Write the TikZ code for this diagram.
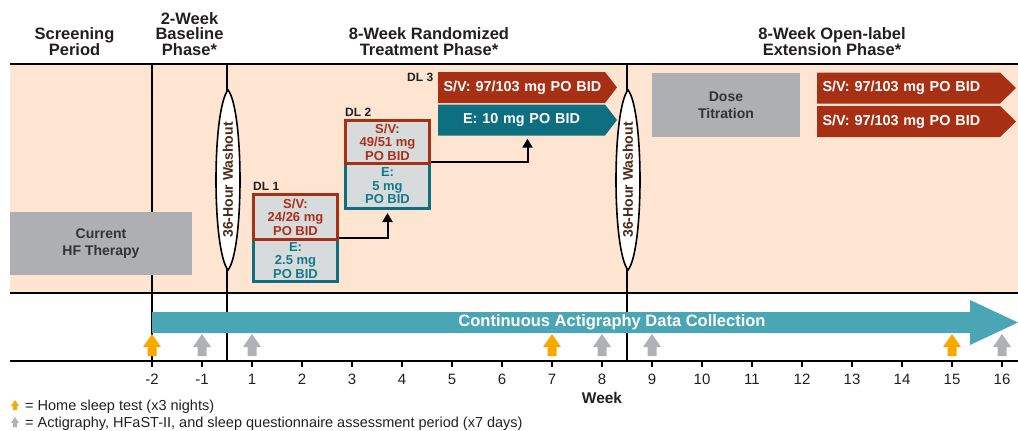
\documentclass[tikz,border=0pt]{standalone}
\usepackage{fontspec}
\setmainfont{Liberation Sans}
\usetikzlibrary{arrows.meta}
\definecolor{peach}{HTML}{FDE5D1}
\definecolor{svred}{HTML}{A72F14}
\definecolor{svtext}{HTML}{A83218}
\definecolor{eteal}{HTML}{0D6F80}
\definecolor{etext}{HTML}{137A8A}
\definecolor{boxgray}{HTML}{AEAFB2}
\definecolor{lightbox}{HTML}{D8DBDC}
\definecolor{actteal}{HTML}{4AA5B4}
\definecolor{orangear}{HTML}{F7A900}
\definecolor{grayarrow}{HTML}{B0B1B4}
\definecolor{washbrown}{HTML}{4A2A18}
\definecolor{darktext}{HTML}{231F20}
\definecolor{boxtext}{HTML}{333333}
\tikzset{
  rule/.style={line width=2.8pt, black},
  hdr/.style={font=\fontsize{16.5}{15.5}\selectfont\bfseries, text=darktext, align=center, inner sep=0pt, anchor=base},
  graybox/.style={fill=boxgray, text=boxtext, font=\fontsize{14}{17}\selectfont\bfseries, align=center, inner sep=0pt},
  washline/.style={draw=black, line width=1.6pt, fill=white},
  washtext/.style={rotate=90, text=washbrown, font=\fontsize{14}{16}\selectfont\bfseries, inner sep=0pt},
  dlbox/.style={line width=3pt, fill=lightbox, font=\fontsize{13}{13.5}\selectfont\bfseries, align=center, inner sep=0pt, minimum width=84pt},
  dlsv/.style={dlbox, draw=svred, text=svtext},
  dle/.style={dlbox, draw=eteal, text=etext},
  dllabel/.style={font=\fontsize{12}{13}\selectfont\bfseries, text=darktext, inner sep=0pt, anchor=west},
  chev/.style 2 args={minimum height=31pt, inner xsep=5.5pt, inner ysep=0pt, text=white,
    font=\fontsize{14.4}{16}\selectfont\bfseries,
    path picture={\fill[#1] (path picture bounding box.north west) -- ([xshift=-#2]path picture bounding box.north east) -- (path picture bounding box.east) -- ([xshift=-#2]path picture bounding box.south east) -- (path picture bounding box.south west) -- cycle;}},
  conn/.style={line width=2pt, black, -{Triangle[width=10pt,length=9pt]}, shorten >=3pt},
  actarrow/.style={minimum width=866pt, minimum height=45pt, inner sep=0pt, text=white,
    font=\fontsize{16.5}{18}\selectfont\bfseries,
    path picture={\fill[actteal] ([yshift=-12pt]path picture bounding box.north west) -- ([xshift=-48pt,yshift=-12pt]path picture bounding box.north east) -- ([xshift=-48pt]path picture bounding box.north east) -- (path picture bounding box.east) -- ([xshift=-48pt]path picture bounding box.south east) -- ([xshift=-48pt,yshift=12pt]path picture bounding box.south east) -- ([yshift=12pt]path picture bounding box.south west) -- cycle;}},
  tickmark/.style={line width=2.8pt, black},
  ticklabel/.style={font=\fontsize{15}{17}\selectfont, text=darktext, inner sep=0pt, anchor=base},
  legend/.style={font=\fontsize{14.5}{16}\selectfont, text=darktext, inner sep=0pt, anchor=base west},
  uparr/.pic={\fill[pic actions] (-4.5,0) -- (-4.5,-9) -- (-9,-9) -- (0,-22) -- (9,-9) -- (4.5,-9) -- (4.5,0) -- cycle;}
}
\begin{document}
\begin{tikzpicture}[x=1pt,y=-1pt]
\useasboundingbox (0,0) rectangle (1018,431);
% background band
\fill[peach] (10,64) rectangle (1018,293);
\draw[rule] (10,64) -- (1018,64);
\draw[rule] (10,293) -- (1018,293);
\draw[rule] (10,361) -- (1018,361);
\foreach \x in {152,227,627} \draw[rule] (\x,64) -- (\x,361);
% headers (anchor = baseline of last line)
\node[hdr] (hscr) at (74.5,55) {Screening\\Period};
\node[hdr] (hbase) at (189.5,55) {2-Week\\Baseline\\Phase*};
\node[hdr] (hrand) at (429,55) {8-Week Randomized\\Treatment Phase*};
\node[hdr] (hext) at (832,55) {8-Week Open-label\\Extension Phase*};
% gray boxes
\node[graybox, minimum width=182pt, minimum height=63pt] (hf) at (101,243.5) {Current\\HF Therapy};
\node[graybox, minimum width=148pt, minimum height=64pt] (dose) at (726,105) {Dose\\Titration};
% washouts
\draw[washline] (228,90) .. controls (244,110) and (244,250) .. (228,270) .. controls (212,250) and (212,110) .. (228,90) -- cycle;
\node[washtext] (wash1) at (228,180) {36-Hour Washout};
\draw[washline] (628,90) .. controls (644,110) and (644,250) .. (628,270) .. controls (612,250) and (612,110) .. (628,90) -- cycle;
\node[washtext] (wash2) at (628,180) {36-Hour Washout};
% dose levels
\node[dle, minimum height=42pt] (dl1e) at (295.5,260.5) {E:\\2.5 mg\\PO BID};
\node[dlsv, minimum height=45pt] (dl1sv) at (295.5,217) {S/V:\\24/26 mg\\PO BID};
\node[dllabel] (dl1) at (253,186) {DL 1};
\node[dle, minimum height=45pt] (dl2e) at (387.5,186) {E:\\5 mg\\PO BID};
\node[dlsv, minimum height=43pt] (dl2sv) at (387.5,142) {S/V:\\49/51 mg\\PO BID};
\node[dllabel] (dl2) at (345,112) {DL 2};
\node[chev={svred}{12pt}, align=left, text width=168pt] (dl3sv) at (527.5,87.5) {S/V: 97/103 mg PO BID};
\node[chev={eteal}{12pt}, align=center, text width=168pt] (dl3e) at (527.5,120) {E: 10 mg PO BID\hspace*{12pt}};
\node[dllabel] (dl3) at (407,77) {DL 3};
\node[chev={svred}{16pt}, align=left, text width=188pt] (ext1) at (916.5,88) {S/V: 97/103 mg PO BID};
\node[chev={svred}{16pt}, align=left, text width=188pt] (ext2) at (916.5,121.5) {S/V: 97/103 mg PO BID};
% titration connectors
\draw[conn] (dl1sv.east |- dl1e.north) -| (dl2e.south);
\draw[conn] (dl2sv.east |- dl2e.north) -| (dl3e.south);
% actigraphy arrow
\node[actarrow] (act) at (585,322.5) {\hspace*{54pt}Continuous Actigraphy Data Collection};
% assessment arrows
\foreach \x in {152,552,952} \pic[fill=orangear] at (\x,356) {uparr};
\foreach \x in {202,252,602,652,1002} \pic[fill=grayarrow] at (\x,356) {uparr};
% axis
\foreach \x/\l in {152/-2,202/-1,252/1,302/2,352/3,402/4,452/5,502/6,552/7,602/8,652/9,702/10,752/11,802/12,852/13,902/14,952/15,1002/16} {
  \draw[tickmark] (\x,361) -- (\x,367);
  \node[ticklabel] at (\x,384.5) {\l};
}
\node[ticklabel, font=\fontsize{15.5}{17}\selectfont\bfseries] (week) at (602,403) {Week};
% legend
\pic[fill=orangear, scale=0.45] at (15,410) {uparr};
\node[legend] (leg1) at (25,410) {= Home sleep test (x3 nights)};
\pic[fill=grayarrow, scale=0.45] at (15,427) {uparr};
\node[legend] (leg2) at (25,427) {= Actigraphy, HFaST-II, and sleep questionnaire assessment period (x7 days)};
\end{tikzpicture}
\end{document}
